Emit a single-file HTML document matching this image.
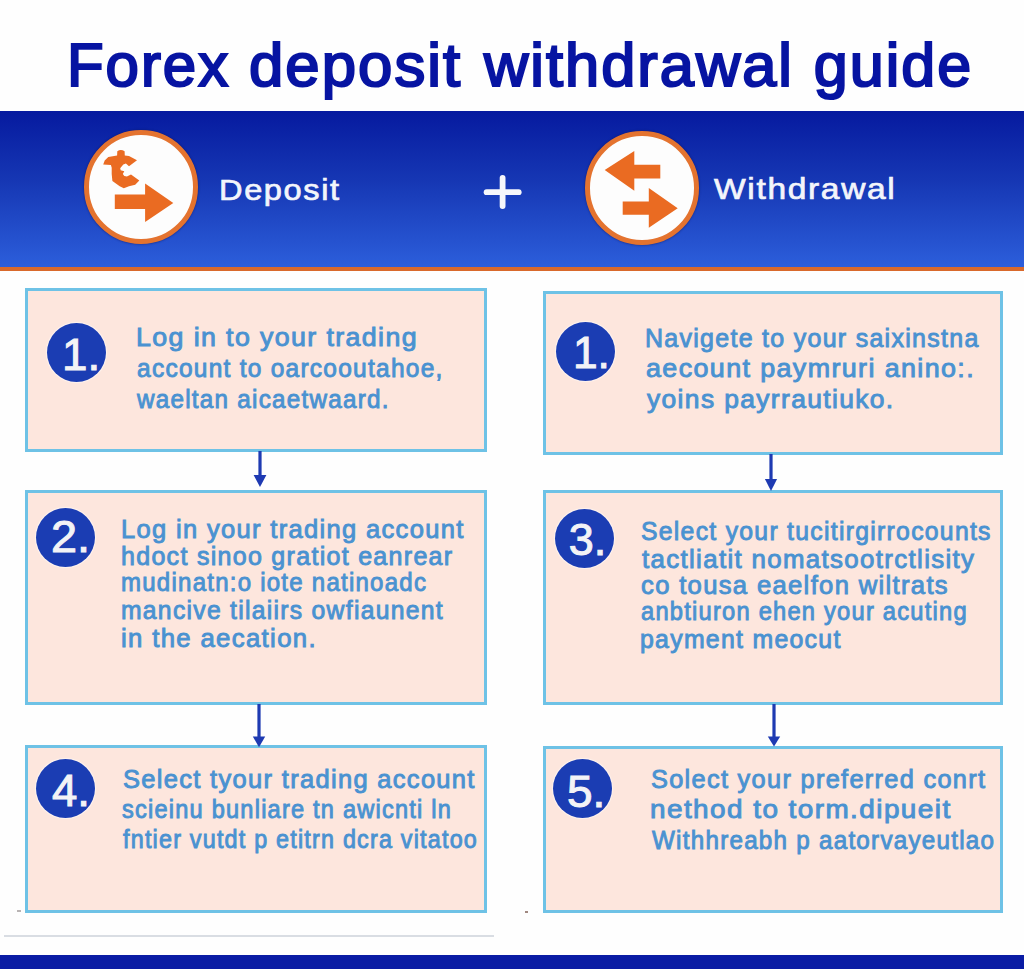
<!DOCTYPE html>
<html><head><meta charset="utf-8"><style>
html,body{margin:0;padding:0}
body{width:1024px;height:969px;overflow:hidden;position:relative;background:#fefefe;font-family:"Liberation Sans",sans-serif}
.t{position:absolute;white-space:pre;line-height:1;transform-origin:0 0}
.bx{position:absolute;box-sizing:border-box;border:3px solid #6ec2e6;background:#fde6dd}
.sc{position:absolute;border-radius:50%;background:#1b3db3;box-shadow:0 0 1px 1px rgba(255,255,255,0.55)}
.ic{position:absolute;border-radius:50%;box-sizing:border-box;background:#fdfdfd;border:5.4px solid #e4732f;box-shadow:0 0 2px 0.5px rgba(10,20,90,0.45)}
.ab{position:absolute;overflow:visible}
</style></head><body>
<div style="position:absolute;left:0;top:111px;width:1024px;height:156px;background:linear-gradient(180deg,#061a9f 0%,#1637b4 45%,#2c5edb 100%)"></div>
<div style="position:absolute;left:0;top:267px;width:1024px;height:4px;background:#d9692b"></div>

<div class="ic" style="left:84.4px;top:130.4px;width:113.6px;height:113.6px"></div>
<div class="ic" style="left:585.2px;top:131.2px;width:113.6px;height:113.6px"></div>
<svg style="position:absolute;left:0;top:0" width="1024" height="300" viewBox="0 0 1024 300">
<g fill="#ea6b22">
<path d="M114.8,194.4 H145.1 V183.6 L173.3,203 L145.1,221.9 V208.9 H114.8 Z"/>
<path d="M117.3,151.2 Q120.7,148.6 124.6,151.2 L124.8,155.6 L129,156.1 L137,160.2 L129,166.2 L125.9,163.6 L123.3,164.4 L120.2,168.2 L120.7,170.3 L124.3,171.3 L122.8,173.9 L124.3,176 L126.9,176.5 L131,174.4 L139.3,180.6 L135.2,184.7 L129,186.3 L123.8,188.3 L119.7,186.3 L112.4,181.1 L111.7,173.9 L111.7,167.7 L110.9,165.1 L103.2,164.6 L104.7,160.5 L108.3,157.1 L117.1,155.6 Z"/>
<path d="M604.7,169.9 L634.3,151 V164.8 H660.3 V178.5 H634.3 V190.8 Z"/>
<path d="M622.7,201.6 H648.8 V187.9 L677.7,208.2 L648.8,227.7 V214.7 H622.7 Z"/>
</g>
<g stroke="#f6f7fb" stroke-width="5.8" stroke-linecap="round">
<line x1="486.6" y1="192.2" x2="518.7" y2="192.2"/>
<line x1="502.6" y1="177.9" x2="502.6" y2="206"/>
</g>
</svg>
<div class="bx" style="left:25px;top:288px;width:462px;height:164px"></div>
<div class="bx" style="left:543px;top:291px;width:460px;height:164px"></div>
<div class="bx" style="left:25px;top:490px;width:462px;height:215px"></div>
<div class="bx" style="left:543px;top:490px;width:460px;height:215px"></div>
<div class="bx" style="left:25px;top:745px;width:462px;height:168px"></div>
<div class="bx" style="left:543px;top:746px;width:460px;height:167px"></div>
<div class="sc" style="left:46.8px;top:323.2px;width:59px;height:59px"></div>
<div class="sc" style="left:556.4px;top:322.0px;width:59px;height:59px"></div>
<div class="sc" style="left:36.0px;top:507.7px;width:59px;height:59px"></div>
<div class="sc" style="left:554.6px;top:509.2px;width:59px;height:59px"></div>
<div class="sc" style="left:36.0px;top:758.8px;width:59px;height:59px"></div>
<div class="sc" style="left:552.8px;top:759.2px;width:59px;height:59px"></div>
<svg class="ab" style="left:249.60000000000002px;top:451px" width="20" height="37" viewBox="249.60000000000002 451 20 37"><rect x="258.0" y="451" width="3.2" height="25" fill="#1e3ab2"/><polygon points="253.20000000000002,475 266.0,475 259.6,487" fill="#1e3ab2"/></svg>
<svg class="ab" style="left:760.8px;top:454px" width="20" height="38" viewBox="760.8 454 20 38"><rect x="769.1999999999999" y="454" width="3.2" height="26" fill="#1e3ab2"/><polygon points="764.6999999999999,479 776.9,479 770.8,491" fill="#1e3ab2"/></svg>
<svg class="ab" style="left:249px;top:704px" width="20" height="44.299999999999955" viewBox="249 704 20 44.299999999999955"><rect x="257.4" y="704" width="3.2" height="33.5" fill="#1e3ab2"/><polygon points="252.8,736.5 265.2,736.5 259,747.3" fill="#1e3ab2"/></svg>
<svg class="ab" style="left:763.6px;top:704px" width="20" height="43.39999999999998" viewBox="763.6 704 20 43.39999999999998"><rect x="772.0" y="704" width="3.2" height="33.5" fill="#1e3ab2"/><polygon points="767.4,736.5 779.8000000000001,736.5 773.6,746.4" fill="#1e3ab2"/></svg>
<div style="position:absolute;left:4px;top:935px;width:490px;height:2px;background:#d9dde3"></div>
<div style="position:absolute;left:0;top:955px;width:1024px;height:14px;background:#0a1ca4"></div>
<div style="position:absolute;left:17px;top:910px;width:4px;height:1.5px;background:#b9b4b4"></div>
<div style="position:absolute;left:524.5px;top:911px;width:3.5px;height:1.5px;background:#a08880"></div>
<div class="t" style="left:218.8px;top:174.7px;font-size:30px;letter-spacing:1.5px;color:#f3f5fb;-webkit-text-stroke:0.7px #f3f5fb;transform:scaleX(1.085)">Deposit</div>
<div class="t" style="left:713.7px;top:174.2px;font-size:30px;letter-spacing:1.5px;color:#f3f5fb;-webkit-text-stroke:0.7px #f3f5fb;transform:scaleX(1.117)">Withdrawal</div>
<div class="t" style="left:66.67px;top:34.5px;font-size:61px;letter-spacing:2px;color:#0714a2;-webkit-text-stroke:2.2px #0714a2;transform:scaleX(0.983)">Forex</div>
<div class="t" style="left:249.4px;top:34.5px;font-size:61px;letter-spacing:2px;color:#0714a2;-webkit-text-stroke:2.2px #0714a2;transform:scaleX(1.012)">deposit</div>
<div class="t" style="left:483.9px;top:34.5px;font-size:61px;letter-spacing:2px;color:#0714a2;-webkit-text-stroke:2.2px #0714a2;transform:scaleX(1.006)">withdrawal</div>
<div class="t" style="left:813.8px;top:34.5px;font-size:61px;letter-spacing:2px;color:#0714a2;-webkit-text-stroke:2.2px #0714a2;transform:scaleX(1.0)">guide</div>
<div class="t" style="left:136.16px;top:324.9px;font-size:25px;font-weight:400;letter-spacing:1.3px;color:#4a92d1;transform:scaleX(1.0703);-webkit-text-stroke:0.9px #4a92d1">Log in to your trading</div>
<div class="t" style="left:137.02px;top:355.7px;font-size:25px;font-weight:400;letter-spacing:1.3px;color:#4a92d1;transform:scaleX(0.9786);-webkit-text-stroke:0.9px #4a92d1">account to oarcooutahoe,</div>
<div class="t" style="left:136.6px;top:386.5px;font-size:25px;font-weight:400;letter-spacing:1.3px;color:#4a92d1;transform:scaleX(0.9689);-webkit-text-stroke:0.9px #4a92d1">waeltan aicaetwaard.</div>
<div class="t" style="left:645.3px;top:325.8px;font-size:25px;font-weight:400;letter-spacing:1.3px;color:#4a92d1;transform:scaleX(0.9979);-webkit-text-stroke:0.9px #4a92d1">Navigete to your saixinstna</div>
<div class="t" style="left:645.93px;top:356.1px;font-size:25px;font-weight:400;letter-spacing:1.3px;color:#4a92d1;transform:scaleX(1.0742);-webkit-text-stroke:0.9px #4a92d1">aecount paymruri anino:.</div>
<div class="t" style="left:647.0px;top:386.5px;font-size:25px;font-weight:400;letter-spacing:1.3px;color:#4a92d1;transform:scaleX(1.0554);-webkit-text-stroke:0.9px #4a92d1">yoins payrrautiuko.</div>
<div class="t" style="left:120.96px;top:516.6px;font-size:25px;font-weight:400;letter-spacing:1.3px;color:#4a92d1;transform:scaleX(1.0207);-webkit-text-stroke:0.9px #4a92d1">Log in your trading account</div>
<div class="t" style="left:121.0px;top:543.9px;font-size:25px;font-weight:400;letter-spacing:1.3px;color:#4a92d1;transform:scaleX(0.9997);-webkit-text-stroke:0.9px #4a92d1">hdoct sinoo gratiot eanrear</div>
<div class="t" style="left:121.08px;top:570.3px;font-size:25px;font-weight:400;letter-spacing:1.3px;color:#4a92d1;transform:scaleX(0.9603);-webkit-text-stroke:0.9px #4a92d1">mudinatn:o iote natinoadc</div>
<div class="t" style="left:121.02px;top:597.6px;font-size:25px;font-weight:400;letter-spacing:1.3px;color:#4a92d1;transform:scaleX(0.9877);-webkit-text-stroke:0.9px #4a92d1">mancive tilaiirs owfiaunent</div>
<div class="t" style="left:120.94px;top:626.2px;font-size:25px;font-weight:400;letter-spacing:1.3px;color:#4a92d1;transform:scaleX(1.0292);-webkit-text-stroke:0.9px #4a92d1">in the aecation.</div>
<div class="t" style="left:641.01px;top:518.7px;font-size:25px;font-weight:400;letter-spacing:1.3px;color:#4a92d1;transform:scaleX(0.9897);-webkit-text-stroke:0.9px #4a92d1">Select your tucitirgirrocounts</div>
<div class="t" style="left:642.0px;top:546.7px;font-size:25px;font-weight:400;letter-spacing:1.3px;color:#4a92d1;transform:scaleX(1.0336);-webkit-text-stroke:0.9px #4a92d1">tactliatit nomatsootrctlisity</div>
<div class="t" style="left:640.98px;top:572.9px;font-size:25px;font-weight:400;letter-spacing:1.3px;color:#4a92d1;transform:scaleX(1.0242);-webkit-text-stroke:0.9px #4a92d1">co tousa eaelfon wiltrats</div>
<div class="t" style="left:641.05px;top:598.9px;font-size:25px;font-weight:400;letter-spacing:1.3px;color:#4a92d1;transform:scaleX(0.9472);-webkit-text-stroke:0.9px #4a92d1">anbtiuron ehen your acuting</div>
<div class="t" style="left:640.01px;top:626.5px;font-size:25px;font-weight:400;letter-spacing:1.3px;color:#4a92d1;transform:scaleX(0.993);-webkit-text-stroke:0.9px #4a92d1">payment meocut</div>
<div class="t" style="left:122.98px;top:766.7px;font-size:25px;font-weight:400;letter-spacing:1.3px;color:#4a92d1;transform:scaleX(1.0186);-webkit-text-stroke:0.9px #4a92d1">Select tyour trading account</div>
<div class="t" style="left:122.06px;top:797px;font-size:25px;font-weight:400;letter-spacing:1.3px;color:#4a92d1;transform:scaleX(0.9424);-webkit-text-stroke:0.9px #4a92d1">scieinu bunliare tn awicnti ln</div>
<div class="t" style="left:123.0px;top:826.8px;font-size:25px;font-weight:400;letter-spacing:1.3px;color:#4a92d1;transform:scaleX(0.9331);-webkit-text-stroke:0.9px #4a92d1">fntier vutdt p etitrn dcra vitatoo</div>
<div class="t" style="left:651.39px;top:767.3px;font-size:25px;font-weight:400;letter-spacing:1.3px;color:#4a92d1;transform:scaleX(1.0128);-webkit-text-stroke:0.9px #4a92d1">Solect your preferred conrt</div>
<div class="t" style="left:649.77px;top:797.4px;font-size:25px;font-weight:400;letter-spacing:1.3px;color:#4a92d1;transform:scaleX(1.1154);-webkit-text-stroke:0.9px #4a92d1">nethod to torm.dipueit</div>
<div class="t" style="left:652.0px;top:827.5px;font-size:25px;font-weight:400;letter-spacing:1.3px;color:#4a92d1;transform:scaleX(0.9677);-webkit-text-stroke:0.9px #4a92d1">Withhreabh p aatorvayeutlao</div>
<div class="t" style="left:61.75px;top:332.2px;font-size:45px;font-weight:400;letter-spacing:0px;color:#f3f3f6;transform:scaleX(1.0161);-webkit-text-stroke:1px #f3f3f6">1.</div>
<div class="t" style="left:572.75px;top:330.2px;font-size:45px;font-weight:400;letter-spacing:0px;color:#f3f3f6;transform:scaleX(0.9839);-webkit-text-stroke:1px #f3f3f6">1.</div>
<div class="t" style="left:50.52px;top:514.3px;font-size:45px;font-weight:400;letter-spacing:0px;color:#f3f3f6;transform:scaleX(1.0406);-webkit-text-stroke:1px #f3f3f6">2.</div>
<div class="t" style="left:568.8px;top:516.8px;font-size:45px;font-weight:400;letter-spacing:0px;color:#f3f3f6;transform:scaleX(1.0);-webkit-text-stroke:1px #f3f3f6">3.</div>
<div class="t" style="left:51.59px;top:767.5px;font-size:45px;font-weight:400;letter-spacing:0px;color:#f3f3f6;transform:scaleX(1.0121);-webkit-text-stroke:1px #f3f3f6">4.</div>
<div class="t" style="left:566.56px;top:768.6px;font-size:45px;font-weight:400;letter-spacing:0px;color:#f3f3f6;transform:scaleX(1.0219);-webkit-text-stroke:1px #f3f3f6">5.</div>
</body></html>
